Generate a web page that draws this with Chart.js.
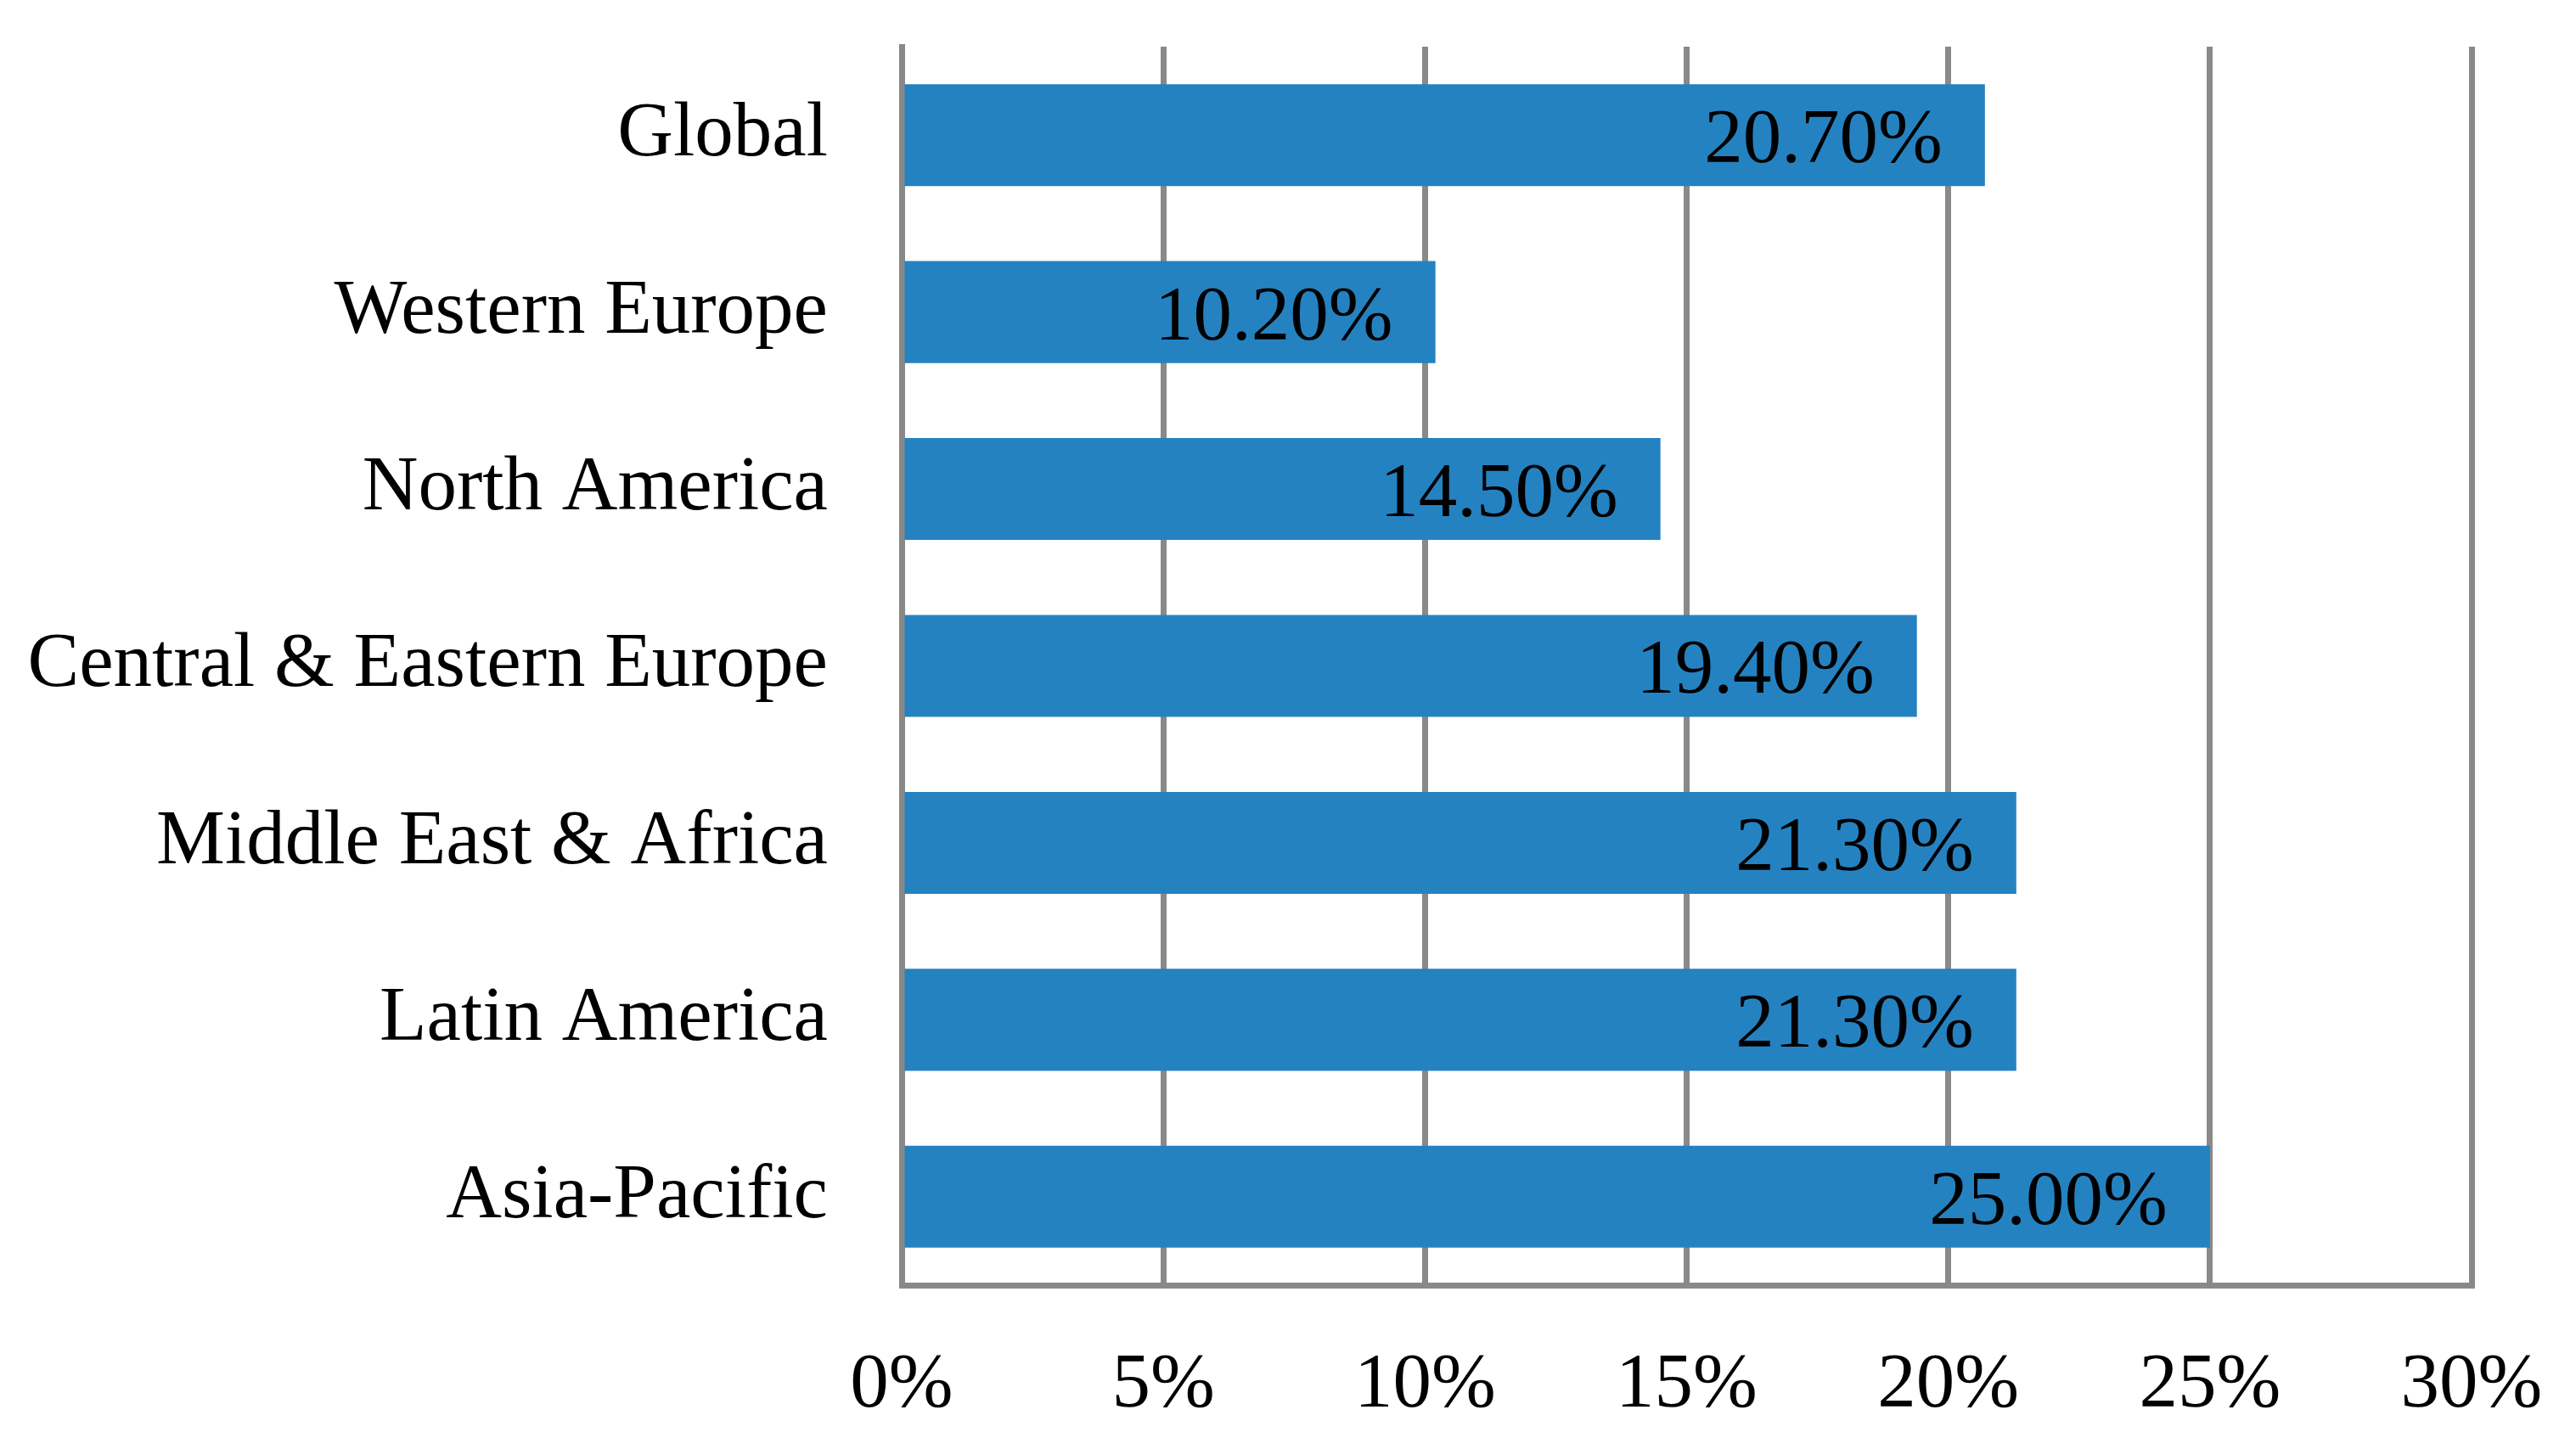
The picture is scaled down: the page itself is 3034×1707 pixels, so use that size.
<!DOCTYPE html>
<html>
<head>
<meta charset="utf-8">
<script src="https://cdn.jsdelivr.net/npm/chart.js@4.4.1/dist/chart.umd.min.js"></script>
<style>
html,body{margin:0;padding:0;background:#fff;}
#wrap{width:3034px;height:1707px;position:relative;}
</style>
</head>
<body>
<div id="wrap"><canvas id="c" width="3034" height="1707"></canvas></div>
<script>
const categories = ["Global","Western Europe","North America","Central & Eastern Europe","Middle East & Africa","Latin America","Asia-Pacific"];
const values = [20.7, 10.2, 14.5, 19.4, 21.3, 21.3, 25.0];
const xTicks = [0, 5, 10, 15, 20, 25, 30];

const FONT = "'Liberation Serif', 'DejaVu Serif', serif";
const GRID = '#898989';

const labelPlugin = {
  id: 'barLabels',
  afterDatasetsDraw(chart) {
    const ctx = chart.ctx;
    const meta = chart.getDatasetMeta(0);
    ctx.save();
    ctx.font = '91px ' + FONT;
    ctx.fillStyle = '#000';
    ctx.textAlign = 'right';
    ctx.textBaseline = 'middle';
    meta.data.forEach((bar, i) => {
      ctx.fillText(values[i].toFixed(2) + '%', bar.x - 50, bar.y + 8);
    });
    ctx.restore();
  }
};

new Chart(document.getElementById('c'), {
  type: 'bar',
  data: {
    labels: categories,
    datasets: [{
      data: values,
      backgroundColor: '#2582C1',
      borderWidth: 0,
      barPercentage: 0.576,
      categoryPercentage: 1.0
    }]
  },
  options: {
    indexAxis: 'y',
    responsive: false,
    animation: false,
    devicePixelRatio: 1,
    layout: { padding: { top: 55, right: 123, left: 0, bottom: 0 } },
    plugins: { legend: { display: false }, tooltip: { enabled: false } },
    scales: {
      x: {
        min: 0, max: 30,
        afterBuildTicks(scale) { scale.ticks = xTicks.map(v => ({ value: v })); },
        afterFit(scale) { scale.height = 193; scale.paddingLeft = 0; scale.paddingRight = 0; },
        ticks: {
          font: { family: FONT, size: 91 },
          color: '#000',
          padding: 64,
          callback: v => v + '%'
        },
        grid: { color: GRID, lineWidth: 7, drawTicks: false },
        border: { display: true, color: GRID, width: 7 }
      },
      y: {
        afterFit(scale) { scale.width = 1062; scale.paddingTop = 0; scale.paddingBottom = 0; },
        ticks: {
          font: { family: FONT, size: 91 },
          color: '#000',
          padding: 87
        },
        grid: { display: false, drawTicks: false },
        border: { display: true, color: GRID, width: 7 }
      }
    }
  },
  plugins: [labelPlugin]
});
</script>
</body>
</html>
